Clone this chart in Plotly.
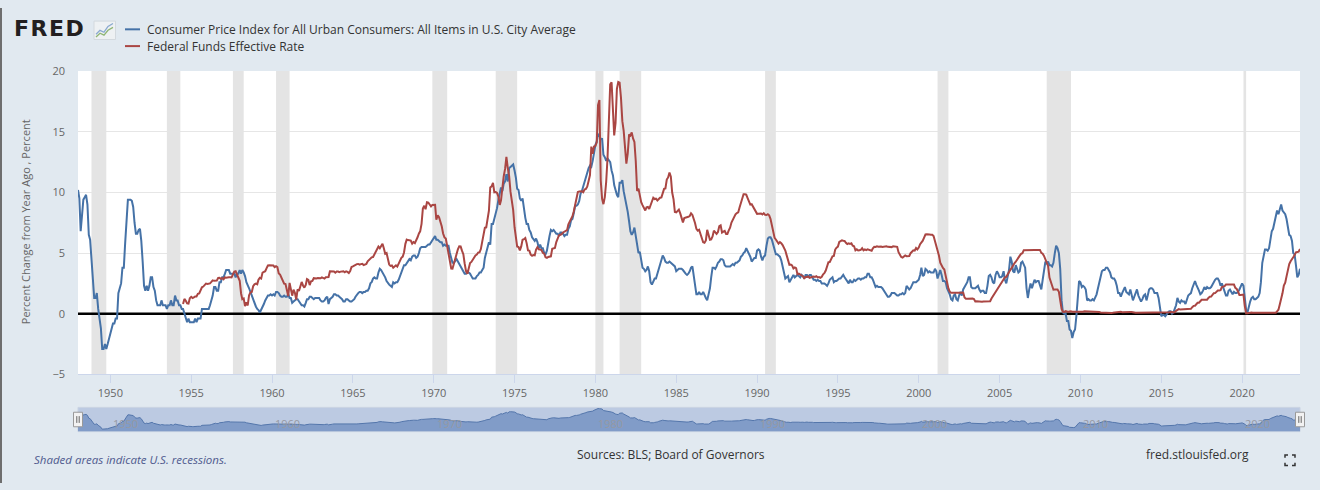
import plotly.graph_objects as go
import pandas as pd

W, H = 1320, 490

# CPI, percent change from year ago, monthly from Jan 1948
cpi_start = "1948-01-01"
cpi_yoy = [
    10.2, 9.5, 6.8, 8.3, 9.4, 9.6, 9.8, 9.0, 6.5, 6.1, 4.7, 2.8,
    1.3, 1.3, 1.7, 0.4, -0.4, -1.2, -2.9, -2.9, -2.5, -2.9, -2.5, -2.1,
    -1.7, -1.3, -0.8, -0.8, -0.4, -0.4, 1.7, 2.1, 2.5, 3.8, 3.8, 5.8,
    8.1, 9.4, 9.4, 9.4, 9.3, 8.8, 7.5, 6.6, 6.6, 6.9, 7.0, 6.0,
    4.3, 2.3, 1.9, 2.3, 1.9, 2.3, 3.0, 3.0, 2.2, 1.9, 1.1, 0.7,
    0.7, 0.7, 1.1, 0.7, 0.7, 0.7, 0.4, 0.7, 0.7, 1.1, 0.7, 0.7,
    1.5, 1.1, 1.1, 0.7, 0.7, 0.4, 0.4, 0.0, -0.4, -0.7, -0.4, -0.7,
    -0.7, -0.7, -0.7, -0.4, -0.7, -0.4, -0.4, -0.4, 0.4, 0.4, 0.4, 0.4,
    0.4, 0.4, 0.7, 1.1, 1.5, 2.2, 2.2, 1.9, 1.9, 2.6, 2.6, 3.0,
    3.0, 3.3, 3.6, 3.6, 3.6, 3.3, 3.3, 3.3, 3.3, 3.0, 3.3, 3.3,
    3.6, 3.3, 3.6, 3.4, 3.1, 2.6, 2.4, 2.1, 1.8, 1.5, 1.1, 0.8,
    0.6, 0.4, 0.3, 0.1, 0.3, 0.6, 0.8, 1.1, 1.3, 1.5, 1.5, 1.6,
    1.5, 1.6, 1.5, 1.8, 1.8, 1.7, 1.5, 1.4, 1.4, 1.5, 1.4, 1.4,
    1.6, 1.3, 1.3, 0.9, 1.0, 1.1, 1.2, 1.2, 1.0, 0.8, 0.7, 0.7,
    0.6, 0.9, 1.2, 1.2, 1.4, 1.4, 1.3, 1.2, 1.3, 1.3, 1.3, 1.3,
    1.1, 1.0, 1.0, 1.1, 1.3, 1.4, 0.8, 1.2, 1.3, 1.4, 1.6, 1.6,
    1.5, 1.5, 1.4, 1.3, 1.2, 1.0, 1.0, 1.2, 1.2, 1.1, 1.0, 1.0,
    1.1, 1.2, 1.4, 1.6, 1.7, 1.8, 1.8, 1.7, 1.8, 1.8, 1.9, 1.9,
    2.1, 2.5, 2.6, 2.9, 3.0, 2.9, 2.9, 3.4, 3.7, 3.6, 3.4, 3.3,
    3.0, 2.7, 2.5, 2.4, 2.3, 2.2, 2.6, 2.5, 2.6, 2.6, 2.8, 3.1,
    3.5, 3.8, 4.0, 4.0, 4.2, 4.4, 4.5, 4.4, 4.7, 4.8, 4.8, 4.6,
    4.7, 5.0, 5.4, 5.5, 5.5, 5.5, 5.5, 5.6, 5.7, 5.7, 5.9, 6.1,
    6.2, 6.4, 6.1, 6.1, 6.0, 5.9, 5.9, 5.6, 5.7, 5.6, 5.6, 5.6,
    5.0, 4.6, 4.2, 4.2, 4.4, 4.5, 4.3, 4.1, 3.8, 3.6, 3.4, 3.3,
    3.3, 3.5, 3.4, 3.3, 3.1, 2.9, 2.9, 2.9, 3.1, 3.2, 3.4, 3.4,
    3.6, 3.8, 4.6, 5.1, 5.5, 5.9, 5.7, 7.4, 7.4, 7.8, 8.3, 8.7,
    9.4, 10.0, 10.4, 10.1, 10.7, 10.9, 11.5, 10.9, 12.0, 12.1, 12.2, 12.3,
    11.8, 11.2, 10.3, 10.2, 9.5, 9.3, 9.5, 8.6, 7.9, 7.4, 7.4, 6.9,
    6.7, 6.3, 6.1, 6.0, 6.2, 5.9, 5.4, 5.7, 5.4, 5.4, 5.0, 4.9,
    5.2, 6.0, 6.4, 6.9, 6.8, 6.9, 6.7, 6.6, 6.6, 6.4, 6.7, 6.7,
    6.6, 6.4, 6.5, 6.5, 7.0, 7.2, 7.7, 7.8, 8.3, 8.9, 8.9, 9.0,
    9.3, 9.9, 10.1, 10.5, 10.9, 11.3, 11.8, 12.0, 12.2, 12.1, 12.6, 13.3,
    13.9, 14.2, 14.8, 14.7, 14.4, 14.4, 13.1, 12.9, 12.6, 12.8, 12.6, 12.5,
    11.8, 11.4, 10.6, 10.1, 9.8, 9.6, 10.8, 10.8, 11.0, 10.1, 9.6, 8.9,
    8.4, 7.6, 6.8, 6.5, 6.7, 7.1, 6.4, 5.8, 5.0, 5.1, 4.5, 3.8,
    3.7, 3.5, 3.6, 3.9, 3.5, 2.6, 2.4, 2.6, 2.9, 2.9, 3.3, 3.8,
    4.2, 4.6, 4.8, 4.6, 4.3, 4.2, 4.2, 4.3, 4.2, 4.1, 4.0, 3.9,
    3.5, 3.6, 3.7, 3.7, 3.7, 3.6, 3.4, 3.3, 3.2, 3.3, 3.5, 3.8,
    3.9, 3.1, 2.3, 1.6, 1.6, 1.8, 1.6, 1.6, 1.8, 1.5, 1.3, 1.1,
    1.5, 2.1, 3.0, 3.8, 3.8, 3.7, 3.9, 4.2, 4.3, 4.5, 4.5, 4.4,
    4.0, 3.9, 3.9, 3.9, 3.9, 4.0, 4.1, 4.0, 4.2, 4.2, 4.3, 4.4,
    4.7, 4.8, 5.0, 5.1, 5.4, 5.2, 5.0, 4.7, 4.3, 4.5, 4.6, 4.6,
    5.2, 5.3, 5.2, 4.7, 4.4, 4.7, 4.8, 5.6, 6.2, 6.3, 6.3, 6.1,
    5.7, 5.3, 4.9, 4.9, 4.8, 4.7, 4.4, 3.8, 3.4, 2.9, 3.0, 3.1,
    2.6, 2.8, 3.1, 3.2, 3.0, 3.1, 3.2, 3.1, 3.0, 3.2, 3.1, 2.9,
    3.2, 3.2, 3.0, 3.2, 3.2, 3.0, 2.8, 2.8, 2.7, 2.8, 2.7, 2.7,
    2.5, 2.5, 2.5, 2.4, 2.3, 2.5, 2.8, 2.9, 3.0, 2.6, 2.7, 2.7,
    2.8, 2.9, 2.9, 3.1, 3.2, 3.0, 2.8, 2.6, 2.5, 2.8, 2.6, 2.6,
    2.8, 2.7, 2.8, 2.9, 2.9, 2.8, 2.9, 2.9, 3.0, 3.0, 3.3, 3.3,
    3.0, 3.0, 2.8, 2.5, 2.2, 2.3, 2.2, 2.2, 2.2, 2.1, 1.9, 1.7,
    1.6, 1.4, 1.4, 1.5, 1.7, 1.7, 1.7, 1.6, 1.5, 1.5, 1.6, 1.6,
    1.7, 1.6, 1.7, 2.3, 2.1, 2.0, 2.1, 2.3, 2.6, 2.6, 2.6, 2.7,
    2.8, 3.2, 3.8, 3.1, 3.2, 3.7, 3.6, 3.4, 3.5, 3.4, 3.4, 3.4,
    3.7, 3.5, 2.9, 3.3, 3.6, 3.2, 2.7, 2.7, 2.6, 2.1, 1.9, 1.6,
    1.2, 1.1, 1.5, 1.6, 1.2, 1.1, 1.5, 1.8, 1.5, 2.0, 2.2, 2.4,
    2.6, 3.0, 3.0, 2.2, 2.1, 2.1, 2.1, 2.2, 2.3, 2.0, 1.8, 1.9,
    1.9, 1.7, 1.7, 2.3, 3.1, 3.2, 3.0, 2.6, 2.5, 3.2, 3.5, 3.3,
    3.0, 3.0, 3.1, 3.5, 2.8, 2.5, 3.1, 3.6, 4.7, 4.3, 3.5, 3.4,
    4.0, 3.6, 3.4, 3.5, 4.2, 4.3, 4.1, 3.8, 2.1, 1.3, 2.0, 2.5,
    2.1, 2.4, 2.8, 2.6, 2.7, 2.7, 2.4, 2.0, 2.8, 3.5, 4.3, 4.1,
    4.3, 4.0, 4.0, 3.9, 4.2, 5.0, 5.6, 5.4, 5.0, 3.7, 1.1, 0.1,
    0.0, 0.0, -0.6, -0.6, -1.3, -1.4, -2.0, -1.5, -1.3, -0.2, 1.8, 2.7,
    2.6, 2.2, 2.3, 2.2, 2.0, 1.1, 1.2, 1.1, 1.1, 1.2, 1.1, 1.4,
    1.6, 2.1, 2.6, 3.1, 3.5, 3.6, 3.6, 3.8, 3.8, 3.6, 3.4, 3.0,
    2.9, 2.9, 2.7, 2.3, 1.7, 1.7, 1.4, 1.7, 2.0, 2.2, 1.8, 1.7,
    1.6, 2.0, 1.5, 1.1, 1.4, 1.8, 2.0, 1.5, 1.2, 1.0, 1.2, 1.5,
    1.6, 1.1, 1.5, 2.0, 2.1, 2.1, 2.0, 1.7, 1.7, 1.7, 1.3, 0.7,
    -0.2, -0.1, -0.1, -0.2, 0.0, 0.1, 0.2, 0.2, 0.0, 0.1, 0.4, 0.7,
    1.3, 1.0, 0.9, 1.1, 1.0, 1.0, 0.8, 1.1, 1.5, 1.6, 1.7, 2.1,
    2.5, 2.7, 2.4, 2.2, 1.9, 1.6, 1.7, 1.9, 2.2, 2.0, 2.2, 2.1,
    2.1, 2.2, 2.4, 2.5, 2.8, 2.9, 2.9, 2.7, 2.3, 2.5, 2.2, 1.9,
    1.5, 1.5, 1.9, 2.0, 1.8, 1.6, 1.8, 1.7, 1.7, 1.8, 2.0, 2.3,
    2.5, 2.3, 1.5, 0.3, 0.1, 0.6, 1.0, 1.3, 1.4, 1.2, 1.2, 1.3,
    1.4, 1.7, 2.6, 4.2, 4.9, 5.3, 5.3, 5.2, 5.4, 6.2, 6.8, 7.0,
    7.5, 7.9, 8.5, 8.2, 8.6, 9.0, 8.5, 8.3, 8.2, 7.8, 7.1, 6.5,
    6.4, 6.0, 5.0, 4.9, 4.0, 3.0, 3.2, 3.7,
]

# Federal funds effective rate, percent, monthly from Jul 1954
ff_start = "1954-07-01"
fed_funds = [
    0.80, 1.22, 1.07, 0.85, 0.83, 1.28,
    1.39, 1.29, 1.35, 1.43, 1.43, 1.64, 1.68, 1.96, 2.18, 2.24, 2.35, 2.48,
    2.45, 2.50, 2.50, 2.62, 2.75, 2.71, 2.75, 2.73, 2.95, 2.96, 2.88, 2.94,
    2.84, 3.00, 2.96, 3.00, 3.00, 3.00, 2.99, 3.24, 3.47, 3.50, 3.28, 2.98,
    2.72, 1.67, 1.20, 1.26, 0.63, 0.93, 0.68, 1.53, 1.76, 1.80, 2.27, 2.42,
    2.48, 2.43, 2.80, 2.96, 2.90, 3.39, 3.47, 3.50, 3.76, 3.98, 4.00, 3.99,
    3.99, 3.97, 3.84, 3.92, 3.85, 3.32, 3.23, 2.98, 2.60, 2.47, 2.44, 1.98,
    1.45, 2.54, 2.02, 1.49, 1.98, 1.73, 1.17, 2.00, 1.88, 2.26, 2.62, 2.33,
    2.15, 2.37, 2.85, 2.78, 2.36, 2.68, 2.71, 2.93, 2.90, 2.90, 2.94, 2.93,
    2.92, 3.00, 2.98, 2.90, 3.00, 2.99, 3.02, 3.49, 3.48, 3.50, 3.48, 3.38,
    3.48, 3.48, 3.43, 3.47, 3.50, 3.50, 3.42, 3.50, 3.45, 3.36, 3.52, 3.85,
    3.90, 3.98, 4.04, 4.09, 4.10, 4.04, 4.09, 4.12, 4.01, 4.08, 4.10, 4.32,
    4.42, 4.60, 4.65, 4.67, 4.90, 5.17, 5.30, 5.53, 5.40, 5.53, 5.76, 5.40,
    4.94, 5.00, 4.53, 4.05, 3.94, 3.98, 3.79, 3.90, 3.99, 3.88, 4.13, 4.51,
    4.61, 4.71, 5.05, 5.76, 6.11, 6.07, 6.02, 6.03, 5.78, 5.91, 5.82, 6.02,
    6.30, 6.61, 6.79, 7.41, 8.67, 8.90, 8.61, 9.19, 9.15, 9.00, 8.85, 8.97,
    8.98, 8.98, 7.76, 8.10, 7.95, 7.61, 7.21, 6.61, 6.29, 6.20, 5.60, 4.90,
    4.14, 3.72, 3.71, 4.16, 4.63, 4.91, 5.31, 5.56, 5.55, 5.20, 4.91, 4.14,
    3.50, 3.29, 3.83, 4.17, 4.27, 4.46, 4.55, 4.80, 4.87, 5.04, 5.06, 5.33,
    5.94, 6.58, 7.09, 7.12, 7.84, 8.49, 10.40, 10.50, 10.78, 10.01, 10.03, 9.95,
    9.65, 8.97, 9.35, 10.51, 11.31, 11.93, 12.92, 12.01, 11.34, 10.06, 9.45, 8.53,
    7.13, 6.24, 5.54, 5.49, 5.22, 5.55, 6.10, 6.14, 6.24, 5.82, 5.22, 5.20,
    4.87, 4.77, 4.84, 4.82, 5.29, 5.48, 5.31, 5.29, 5.25, 5.02, 4.95, 4.65,
    4.61, 4.68, 4.69, 4.73, 5.35, 5.39, 5.42, 5.90, 6.14, 6.47, 6.51, 6.56,
    6.70, 6.78, 6.79, 6.89, 7.36, 7.60, 7.81, 8.04, 8.45, 8.96, 9.76, 10.03,
    10.07, 10.06, 10.09, 10.01, 10.24, 10.29, 10.47, 10.94, 11.43, 13.77, 13.18, 13.78,
    13.82, 14.13, 17.19, 17.61, 10.98, 9.47, 9.03, 9.61, 10.87, 12.81, 15.85, 18.90,
    19.08, 15.93, 14.70, 15.72, 18.52, 19.10, 19.04, 17.82, 15.87, 15.08, 13.31, 12.37,
    13.22, 14.78, 14.68, 14.94, 14.45, 14.15, 12.59, 10.12, 10.31, 9.71, 9.20, 8.95,
    8.68, 8.51, 8.77, 8.80, 8.63, 8.98, 9.37, 9.56, 9.45, 9.48, 9.34, 9.47,
    9.56, 9.59, 9.91, 10.29, 10.32, 11.06, 11.23, 11.64, 11.30, 9.99, 9.43, 8.38,
    8.35, 8.50, 8.58, 8.27, 7.97, 7.53, 7.88, 7.90, 7.92, 7.99, 8.05, 8.27,
    8.14, 7.86, 7.48, 6.99, 6.85, 6.92, 6.56, 6.17, 5.89, 5.85, 6.04, 6.91,
    6.43, 6.10, 6.13, 6.37, 6.85, 6.73, 6.58, 6.73, 7.22, 7.29, 6.69, 6.77,
    6.83, 6.58, 6.58, 6.87, 7.09, 7.51, 7.75, 8.01, 8.19, 8.30, 8.35, 8.76,
    9.12, 9.36, 9.85, 9.84, 9.81, 9.53, 9.24, 8.99, 9.02, 8.84, 8.55, 8.45,
    8.23, 8.24, 8.28, 8.26, 8.18, 8.29, 8.15, 8.13, 8.20, 8.11, 7.81, 7.31,
    6.91, 6.25, 6.12, 5.91, 5.78, 5.90, 5.82, 5.66, 5.45, 5.21, 4.81, 4.43,
    4.03, 4.06, 3.98, 3.73, 3.82, 3.76, 3.25, 3.30, 3.22, 3.10, 3.09, 2.92,
    3.02, 3.03, 3.07, 2.96, 3.00, 3.04, 3.06, 3.03, 3.09, 2.99, 3.02, 2.96,
    3.05, 3.25, 3.34, 3.56, 4.01, 4.25, 4.26, 4.47, 4.73, 4.76, 5.29, 5.45,
    5.53, 5.92, 5.98, 6.05, 6.01, 6.00, 5.85, 5.74, 5.80, 5.76, 5.80, 5.60,
    5.56, 5.22, 5.31, 5.22, 5.24, 5.27, 5.40, 5.22, 5.30, 5.24, 5.31, 5.29,
    5.25, 5.19, 5.39, 5.51, 5.50, 5.56, 5.52, 5.54, 5.54, 5.50, 5.52, 5.50,
    5.56, 5.51, 5.49, 5.45, 5.49, 5.56, 5.54, 5.55, 5.51, 5.07, 4.83, 4.68,
    4.63, 4.76, 4.81, 4.74, 4.74, 4.76, 4.99, 5.07, 5.22, 5.20, 5.42, 5.30,
    5.45, 5.73, 5.85, 6.02, 6.27, 6.53, 6.54, 6.50, 6.52, 6.51, 6.51, 6.40,
    5.98, 5.49, 5.31, 4.80, 4.21, 3.97, 3.77, 3.65, 3.07, 2.49, 2.09, 1.82,
    1.73, 1.74, 1.73, 1.75, 1.75, 1.75, 1.73, 1.74, 1.75, 1.75, 1.34, 1.24,
    1.24, 1.26, 1.25, 1.26, 1.26, 1.22, 1.01, 1.03, 1.01, 1.01, 1.00, 0.98,
    1.00, 1.01, 1.00, 1.00, 1.00, 1.03, 1.26, 1.43, 1.61, 1.76, 1.93, 2.16,
    2.28, 2.50, 2.63, 2.79, 3.00, 3.04, 3.26, 3.50, 3.62, 3.78, 4.00, 4.16,
    4.29, 4.49, 4.59, 4.79, 4.94, 4.99, 5.24, 5.25, 5.25, 5.25, 5.25, 5.24,
    5.25, 5.26, 5.26, 5.25, 5.25, 5.25, 5.26, 5.02, 4.94, 4.76, 4.49, 4.24,
    3.94, 2.98, 2.61, 2.28, 1.98, 2.00, 2.01, 2.00, 1.81, 0.97, 0.39, 0.16,
    0.15, 0.22, 0.18, 0.15, 0.18, 0.21, 0.16, 0.16, 0.15, 0.12, 0.12, 0.12,
    0.11, 0.13, 0.16, 0.20, 0.20, 0.18, 0.18, 0.19, 0.19, 0.19, 0.19, 0.18,
    0.17, 0.16, 0.14, 0.10, 0.09, 0.09, 0.07, 0.10, 0.08, 0.07, 0.08, 0.07,
    0.08, 0.10, 0.13, 0.14, 0.16, 0.16, 0.16, 0.13, 0.14, 0.16, 0.16, 0.16,
    0.14, 0.15, 0.14, 0.15, 0.11, 0.09, 0.09, 0.08, 0.08, 0.09, 0.08, 0.09,
    0.07, 0.07, 0.08, 0.09, 0.09, 0.10, 0.09, 0.09, 0.09, 0.09, 0.09, 0.12,
    0.11, 0.11, 0.11, 0.12, 0.12, 0.13, 0.13, 0.14, 0.14, 0.12, 0.12, 0.24,
    0.34, 0.38, 0.36, 0.37, 0.37, 0.38, 0.39, 0.40, 0.40, 0.40, 0.41, 0.54,
    0.65, 0.66, 0.79, 0.90, 0.91, 1.04, 1.15, 1.16, 1.15, 1.15, 1.16, 1.30,
    1.41, 1.42, 1.51, 1.69, 1.70, 1.82, 1.91, 1.91, 1.95, 2.19, 2.20, 2.27,
    2.40, 2.40, 2.41, 2.42, 2.39, 2.38, 2.40, 2.13, 2.04, 1.83, 1.55, 1.55,
    1.55, 1.58, 0.65, 0.05, 0.05, 0.08, 0.09, 0.10, 0.09, 0.09, 0.09, 0.09,
    0.09, 0.08, 0.07, 0.07, 0.06, 0.08, 0.10, 0.09, 0.08, 0.08, 0.08, 0.08,
    0.08, 0.08, 0.20, 0.33, 0.77, 1.21, 1.68, 2.33, 2.56, 3.08, 3.78, 4.10,
    4.33, 4.57, 4.65, 4.83, 5.06, 5.08, 5.12, 5.33,
]

# NBER recessions (peak month, trough month)
recession_start = ["1948-11-01", "1953-07-01", "1957-08-01", "1960-04-01", "1969-12-01", "1973-11-01",
                   "1980-01-01", "1981-07-01", "1990-07-01", "2001-03-01", "2007-12-01", "2020-02-01"]
recession_end = ["1949-10-01", "1954-05-01", "1958-04-01", "1961-02-01", "1970-11-01", "1975-03-01",
                 "1980-07-01", "1982-11-01", "1991-03-01", "2001-11-01", "2009-06-01", "2020-04-01"]

tick_labels = ["1950", "1955", "1960", "1965", "1970", "1975", "1980", "1985",
               "1990", "1995", "2000", "2005", "2010", "2015", "2020"]
y_ticks = [-5, 0, 5, 10, 15, 20]
nav_labels = ["1950", "1960", "1970", "1980", "1990", "2000", "2010", "2020"]

cpi_name = "Consumer Price Index for All Urban Consumers: All Items in U.S. City Average"
ff_name = "Federal Funds Effective Rate"

cpi_dates = pd.date_range(cpi_start, periods=len(cpi_yoy), freq="MS")
ff_dates = pd.date_range(ff_start, periods=len(fed_funds), freq="MS")
x_range = [cpi_dates[0], cpi_dates[-1]]
y_range = [-5, 20]


def px(x):
    return x / W


def py(y):
    return 1 - y / H


def path(points):
    return "M " + " L ".join(f"{px(a):.5f},{py(b):.5f}" for a, b in points)


PLOT_L, PLOT_R, PLOT_T, PLOT_B = 78, 1300, 65, 378
NAV_T, NAV_B = 412, 437
nav_floor, nav_ceil = -5.0, 15.8

fig = go.Figure()
fig.add_trace(go.Scatter(x=cpi_dates, y=cpi_yoy, mode="lines", name=cpi_name,
                         line=dict(color="#4572a7", width=2)))
fig.add_trace(go.Scatter(x=ff_dates, y=fed_funds, mode="lines", name=ff_name,
                         line=dict(color="#aa4643", width=2)))
# navigator
fig.add_trace(go.Scatter(x=x_range, y=[nav_floor, nav_floor], mode="lines", line=dict(width=0),
                         xaxis="x2", yaxis="y2", hoverinfo="skip"))
fig.add_trace(go.Scatter(x=cpi_dates, y=cpi_yoy, mode="lines", fill="tonexty",
                         fillcolor="rgb(129,156,200)", line=dict(color="rgb(84,118,171)", width=1),
                         xaxis="x2", yaxis="y2", hoverinfo="skip"))

shapes = []
shapes.append(dict(type="rect", xref="paper", yref="paper", x0=px(PLOT_L), x1=px(PLOT_R),
                   y0=py(NAV_B), y1=py(NAV_T), fillcolor="rgb(188,202,226)",
                   line=dict(color="#c8d2e2", width=1), layer="below"))
for s, e in zip(recession_start, recession_end):
    shapes.append(dict(type="rect", xref="x", yref="y", x0=s, x1=e, y0=y_range[0], y1=y_range[1],
                       fillcolor="#e4e4e4", line=dict(width=0), layer="between"))
shapes.append(dict(type="line", xref="x", yref="y", x0=x_range[0], x1=x_range[1], y0=0, y1=0,
                   line=dict(color="black", width=2.5), layer="between"))
# navigator handles
for cx in (PLOT_L, PLOT_R):
    shapes.append(dict(type="rect", xref="paper", yref="paper", x0=px(cx - 4.5), x1=px(cx + 4.5),
                       y0=py(432), y1=py(417), fillcolor="#f2f2f2", line=dict(color="#999999", width=1)))
    for dx in (-1.2, 1.2):
        shapes.append(dict(type="line", xref="paper", yref="paper", x0=px(cx + dx), x1=px(cx + dx),
                           y0=py(428), y1=py(421), line=dict(color="#666666", width=1)))
# legend swatches
shapes.append(dict(type="line", xref="paper", yref="paper", x0=px(125), x1=px(140), y0=py(22), y1=py(22),
                   line=dict(color="#4572a7", width=2)))
shapes.append(dict(type="line", xref="paper", yref="paper", x0=px(125), x1=px(140), y0=py(39.3), y1=py(39.3),
                   line=dict(color="#aa4643", width=2)))
# small FRED icon
shapes.append(dict(type="rect", xref="paper", yref="paper", x0=px(94), x1=px(115.5), y0=py(32.5), y1=py(13.5),
                   fillcolor="#eef1f3", line=dict(color="#d3d9de", width=1)))
shapes.append(dict(type="path", xref="paper", yref="paper",
                   path=path([(96, 27), (100, 23), (104, 25), (108, 19), (113, 16)]),
                   line=dict(color="#8aa9cf", width=1.3)))
shapes.append(dict(type="path", xref="paper", yref="paper",
                   path=path([(96, 30), (100, 26), (104, 28), (108, 23), (113, 20)]),
                   line=dict(color="#8fb574", width=1.3)))
# full-screen icon
for pts in ([(1285, 464), (1285, 461), (1288, 461)], [(1292, 461), (1295, 461), (1295, 464)],
            [(1285, 469), (1285, 472), (1288, 472)], [(1292, 472), (1295, 472), (1295, 469)]):
    shapes.append(dict(type="path", xref="paper", yref="paper", path=path(pts),
                       line=dict(color="#333333", width=1.5)))
# page border
shapes.append(dict(type="line", xref="paper", yref="paper", x0=px(1), x1=px(1), y0=0, y1=1,
                   line=dict(color="#6e6e6e", width=2)))

annotations = [
    dict(text='<b><span style="letter-spacing:1.5px">FRED</span></b>', x=px(12), y=py(21.5),
         xanchor="left", yanchor="middle",
         font=dict(family="DejaVu Sans", size=22, color="#231f20")),
    dict(text=cpi_name, x=px(145), y=py(22.5), xanchor="left", yanchor="middle",
         font=dict(size=12, color="#333333")),
    dict(text=ff_name, x=px(145), y=py(39.5), xanchor="left", yanchor="middle",
         font=dict(size=12, color="#333333")),
    dict(text="Percent Change from Year Ago , Percent", x=px(25), y=py(221), textangle=-90,
         xanchor="center", yanchor="middle", font=dict(size=11, color="#666666")),
    dict(text="<i>Shaded areas indicate U.S. recessions.</i>", x=px(32), y=py(466),
         xanchor="left", yanchor="middle", font=dict(size=11.5, color="#4f5a8e")),
    dict(text="Sources: BLS; Board of Governors", x=px(671), y=py(461),
         xanchor="center", yanchor="middle", font=dict(size=12, color="#333333")),
    dict(text="fred.stlouisfed.org", x=px(1144), y=py(461),
         xanchor="left", yanchor="middle", font=dict(size=12, color="#333333")),
]
for lab in nav_labels:
    annotations.append(dict(text=lab, x=f"{lab}-01-01", xref="x2", y=py(428.5), yref="paper",
                            xanchor="left", yanchor="middle", xshift=1,
                            font=dict(size=11, color="rgb(150,153,162)")))
for a in annotations:
    a.setdefault("xref", "paper")
    a.setdefault("yref", "paper")
    a["showarrow"] = False

fig.update_layout(
    width=W, height=H,
    margin=dict(l=0, r=0, t=0, b=0),
    paper_bgcolor="#e1e9f0",
    plot_bgcolor="#ffffff",
    font=dict(family="Open Sans", color="#666666"),
    showlegend=False,
    hovermode=False,
    xaxis=dict(domain=[px(PLOT_L), px(PLOT_R)], range=x_range, type="date", anchor="y",
               tickmode="array", tickvals=[f"{t}-01-01" for t in tick_labels], ticktext=tick_labels,
               ticks="outside", ticklen=8, tickcolor="#ccd6eb", tickwidth=1,
               showgrid=False, zeroline=False, showline=True, linecolor="#ccd6eb", linewidth=1,
               tickfont=dict(size=11, color="#666666")),
    yaxis=dict(domain=[py(PLOT_B), py(PLOT_T)], range=y_range, anchor="x",
               tickmode="array", tickvals=y_ticks, ticks="", ticklabelstandoff=12,
               showgrid=True, gridcolor="#e6e6e6", gridwidth=1, zeroline=False, showline=False,
               tickfont=dict(size=11, color="#666666")),
    xaxis2=dict(domain=[px(PLOT_L), px(PLOT_R)], range=x_range, type="date", anchor="y2",
                visible=False),
    yaxis2=dict(domain=[py(NAV_B), py(NAV_T)], range=[nav_floor, nav_ceil], anchor="x2",
                visible=False),
    shapes=shapes,
    annotations=annotations,
)

# drop the default page margin so the figure fills the window exactly
page_fix = "document.body.style.margin='0'; document.body.style.overflow='hidden';"
fig.write_html("out.html", config={"displayModeBar": False}, post_script=page_fix)
